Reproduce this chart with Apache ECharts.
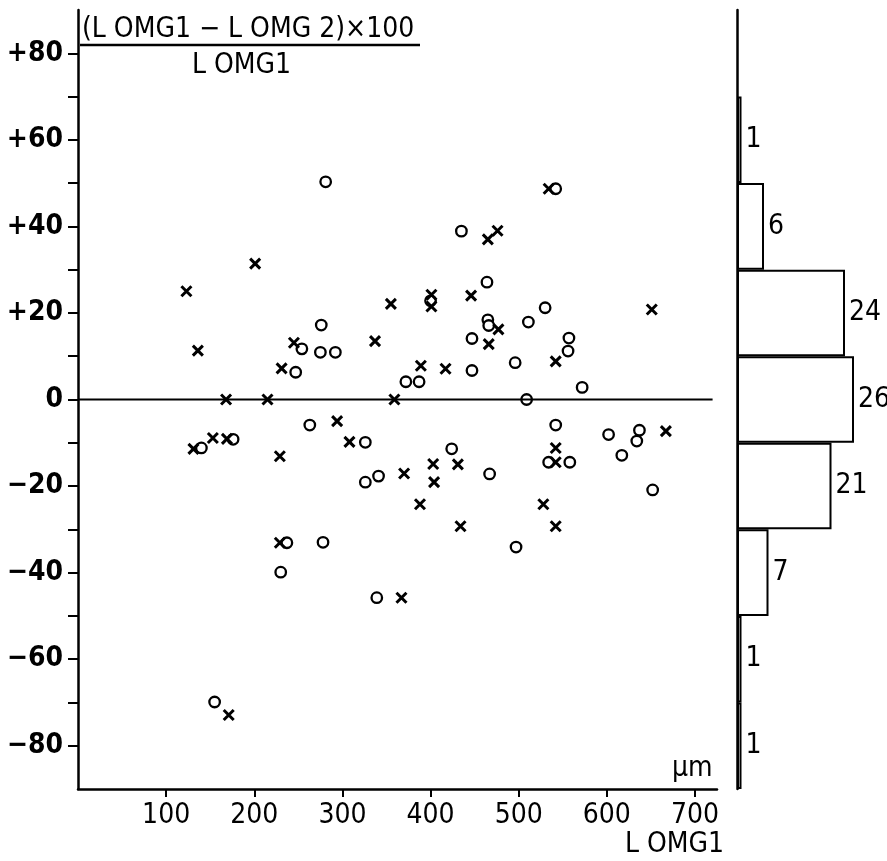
<!DOCTYPE html>
<html><head><meta charset="utf-8">
<script src="https://cdn.jsdelivr.net/npm/echarts@6/dist/echarts.min.js"></script>
<style>html,body{margin:0;padding:0;background:#fff}#c{width:887px;height:861px}</style>
</head><body><div id="c"></div>
<script>
// scatter data: [L OMG1 (µm), (L OMG1 - L OMG2)*100 / L OMG1]
const circles = [
  [281,50.3],[542,48.7],[435,38.9],[464,27.1],[530,21.2],[465,18.4],[466,17.1],[511,17.9],
  [447,14.1],[557,14.2],[556,11.2],[496,8.5],[447,6.7],[572,2.8],[509,0],[542,-5.9],
  [602,-8.1],[637,-7.1],[634,-9.6],[424,-11.4],[467,-17.2],[534,-14.5],[558,-14.5],[617,-12.9],
  [652,-20.9],[497,-34.1],[140,-11.2],[176,-9.2],[247,6.3],[254,11.7],[276,17.2],[275,10.9],
  [292,10.9],[372,4.1],[387,4.1],[263,-5.9],[326,-9.9],[326,-19.1],[341,-17.7],[237,-33.1],
  [278,-33],[230,-39.9],[339,-45.8],[155,-69.9],[400,22.8]
];
const crosses = [
  [123,25],[201,31.4],[401,24.2],[401,21.5],[355,22.1],[534,48.7],[476,39],[465,37],
  [446,24],[136,11.3],[168,0],[215,0],[359,0],[131,-11.4],[153,-8.9],[169,-9.1],
  [229,-13.1],[231,7.2],[245,13.1],[337,13.5],[389,7.8],[417,7.1],[294,-5],[308,-9.8],
  [370,-17.1],[403,-14.9],[404,-19.1],[388,-24.2],[229,-33.1],[651,20.8],[477,16.2],[466,12.8],
  [542,8.8],[667,-7.3],[431,-15],[542,-11.2],[542,-14.5],[528,-24.2],[434,-29.3],[542,-29.3],
  [367,-45.8],[171,-72.9]
];
const zeroLine = [[0,0],[720,0]];
// histogram of the y values, bins of width 20 from -90 upwards
const binLabels = ['-90…-70','-70…-50','-50…-30','-30…-10','-10…10','10…30','30…50','50…70','70…90'];
const binCounts = [1,1,7,21,26,24,6,1];
const yTicks = [-80,-70,-60,-50,-40,-30,-20,-10,0,10,20,30,40,50,60,70,80];
const yLabels = [-80,-60,-40,-20,0,20,40,60,80];
const xTicks = [100,200,300,400,500,600,700];

const FONT = '"Liberation Sans Narrow","DejaVu Sans Condensed","Roboto Condensed","Liberation Sans",sans-serif';
const chart = echarts.init(document.getElementById('c'), null, {renderer:'canvas'});
chart.setOption({
  animation:false,
  backgroundColor:'#fff',
  grid:[
    {left:78, top:10, width:639, height:779},
    {left:737, top:10, width:135, height:779}
  ],
  xAxis:[
    {gridIndex:0, type:'value', min:0, max:725,
     axisLine:{onZero:false, lineStyle:{color:'#000', width:2.5}},
     axisTick:{customValues:xTicks, length:8, lineStyle:{color:'#000', width:2}},
     axisLabel:{customValues:xTicks, color:'#000', fontSize:28, fontWeight:500, fontFamily:FONT, margin:13},
     splitLine:{show:false}},
    {gridIndex:1, type:'value', min:0, max:30, show:false}
  ],
  yAxis:[
    {gridIndex:0, type:'value', min:-90, max:90,
     axisLine:{show:true, onZero:false, lineStyle:{color:'#000', width:2.5}},
     axisTick:{show:true, customValues:yTicks, length:10, lineStyle:{color:'#000', width:2}},
     axisLabel:{customValues:yLabels, color:'#000', fontSize:28, fontWeight:'bold', fontFamily:FONT, margin:15,
       formatter:v=> v>0 ? '+'+v : (v<0 ? '\u2212'+(-v) : '0')},
     splitLine:{show:false}},
    {gridIndex:1, type:'category', data:binLabels,
     axisLine:{show:true, lineStyle:{color:'#000', width:2.5}},
     axisTick:{show:false}, axisLabel:{show:false}, splitLine:{show:false}}
  ],
  series:[
    {type:'line', xAxisIndex:0, yAxisIndex:0, data:zeroLine, symbol:'none',
     lineStyle:{color:'#000', width:2}, silent:true},
    {type:'scatter', xAxisIndex:0, yAxisIndex:0, data:circles, symbol:'circle', symbolSize:10.5,
     itemStyle:{color:'#fff', borderColor:'#000', borderWidth:2.3, opacity:1}},
    {type:'scatter', xAxisIndex:0, yAxisIndex:0, data:crosses, symbol:'path://M0,0L1,1M1,0L0,1', symbolSize:10,
     itemStyle:{color:'none', borderColor:'#000', borderWidth:3, opacity:1}},
    {type:'bar', xAxisIndex:1, yAxisIndex:1, data:binCounts, barCategoryGap:'0%',
     itemStyle:{color:'#fff', borderColor:'#000', borderWidth:2},
     label:{show:true, position:'right', distance:4, color:'#000', fontSize:28, fontFamily:FONT}}
  ],
  graphic:[
    {type:'text', left:82, top:16, style:{text:'(L OMG1 \u2212 L OMG 2)\u00d7100', font:'28px '+FONT, fill:'#000'}},
    {type:'line', shape:{x1:80, y1:45, x2:420, y2:45}, style:{stroke:'#000', lineWidth:2.3}},
    {type:'text', left:192, top:52, style:{text:'L OMG1', font:'28px '+FONT, fill:'#000'}},
    {type:'text', left:672, top:755, style:{text:'\u00b5m', font:'28px '+FONT, fill:'#000'}},
    {type:'text', left:625, top:831, style:{text:'L OMG1', font:'28px '+FONT, fill:'#000'}}
  ]
});
</script></body></html>
